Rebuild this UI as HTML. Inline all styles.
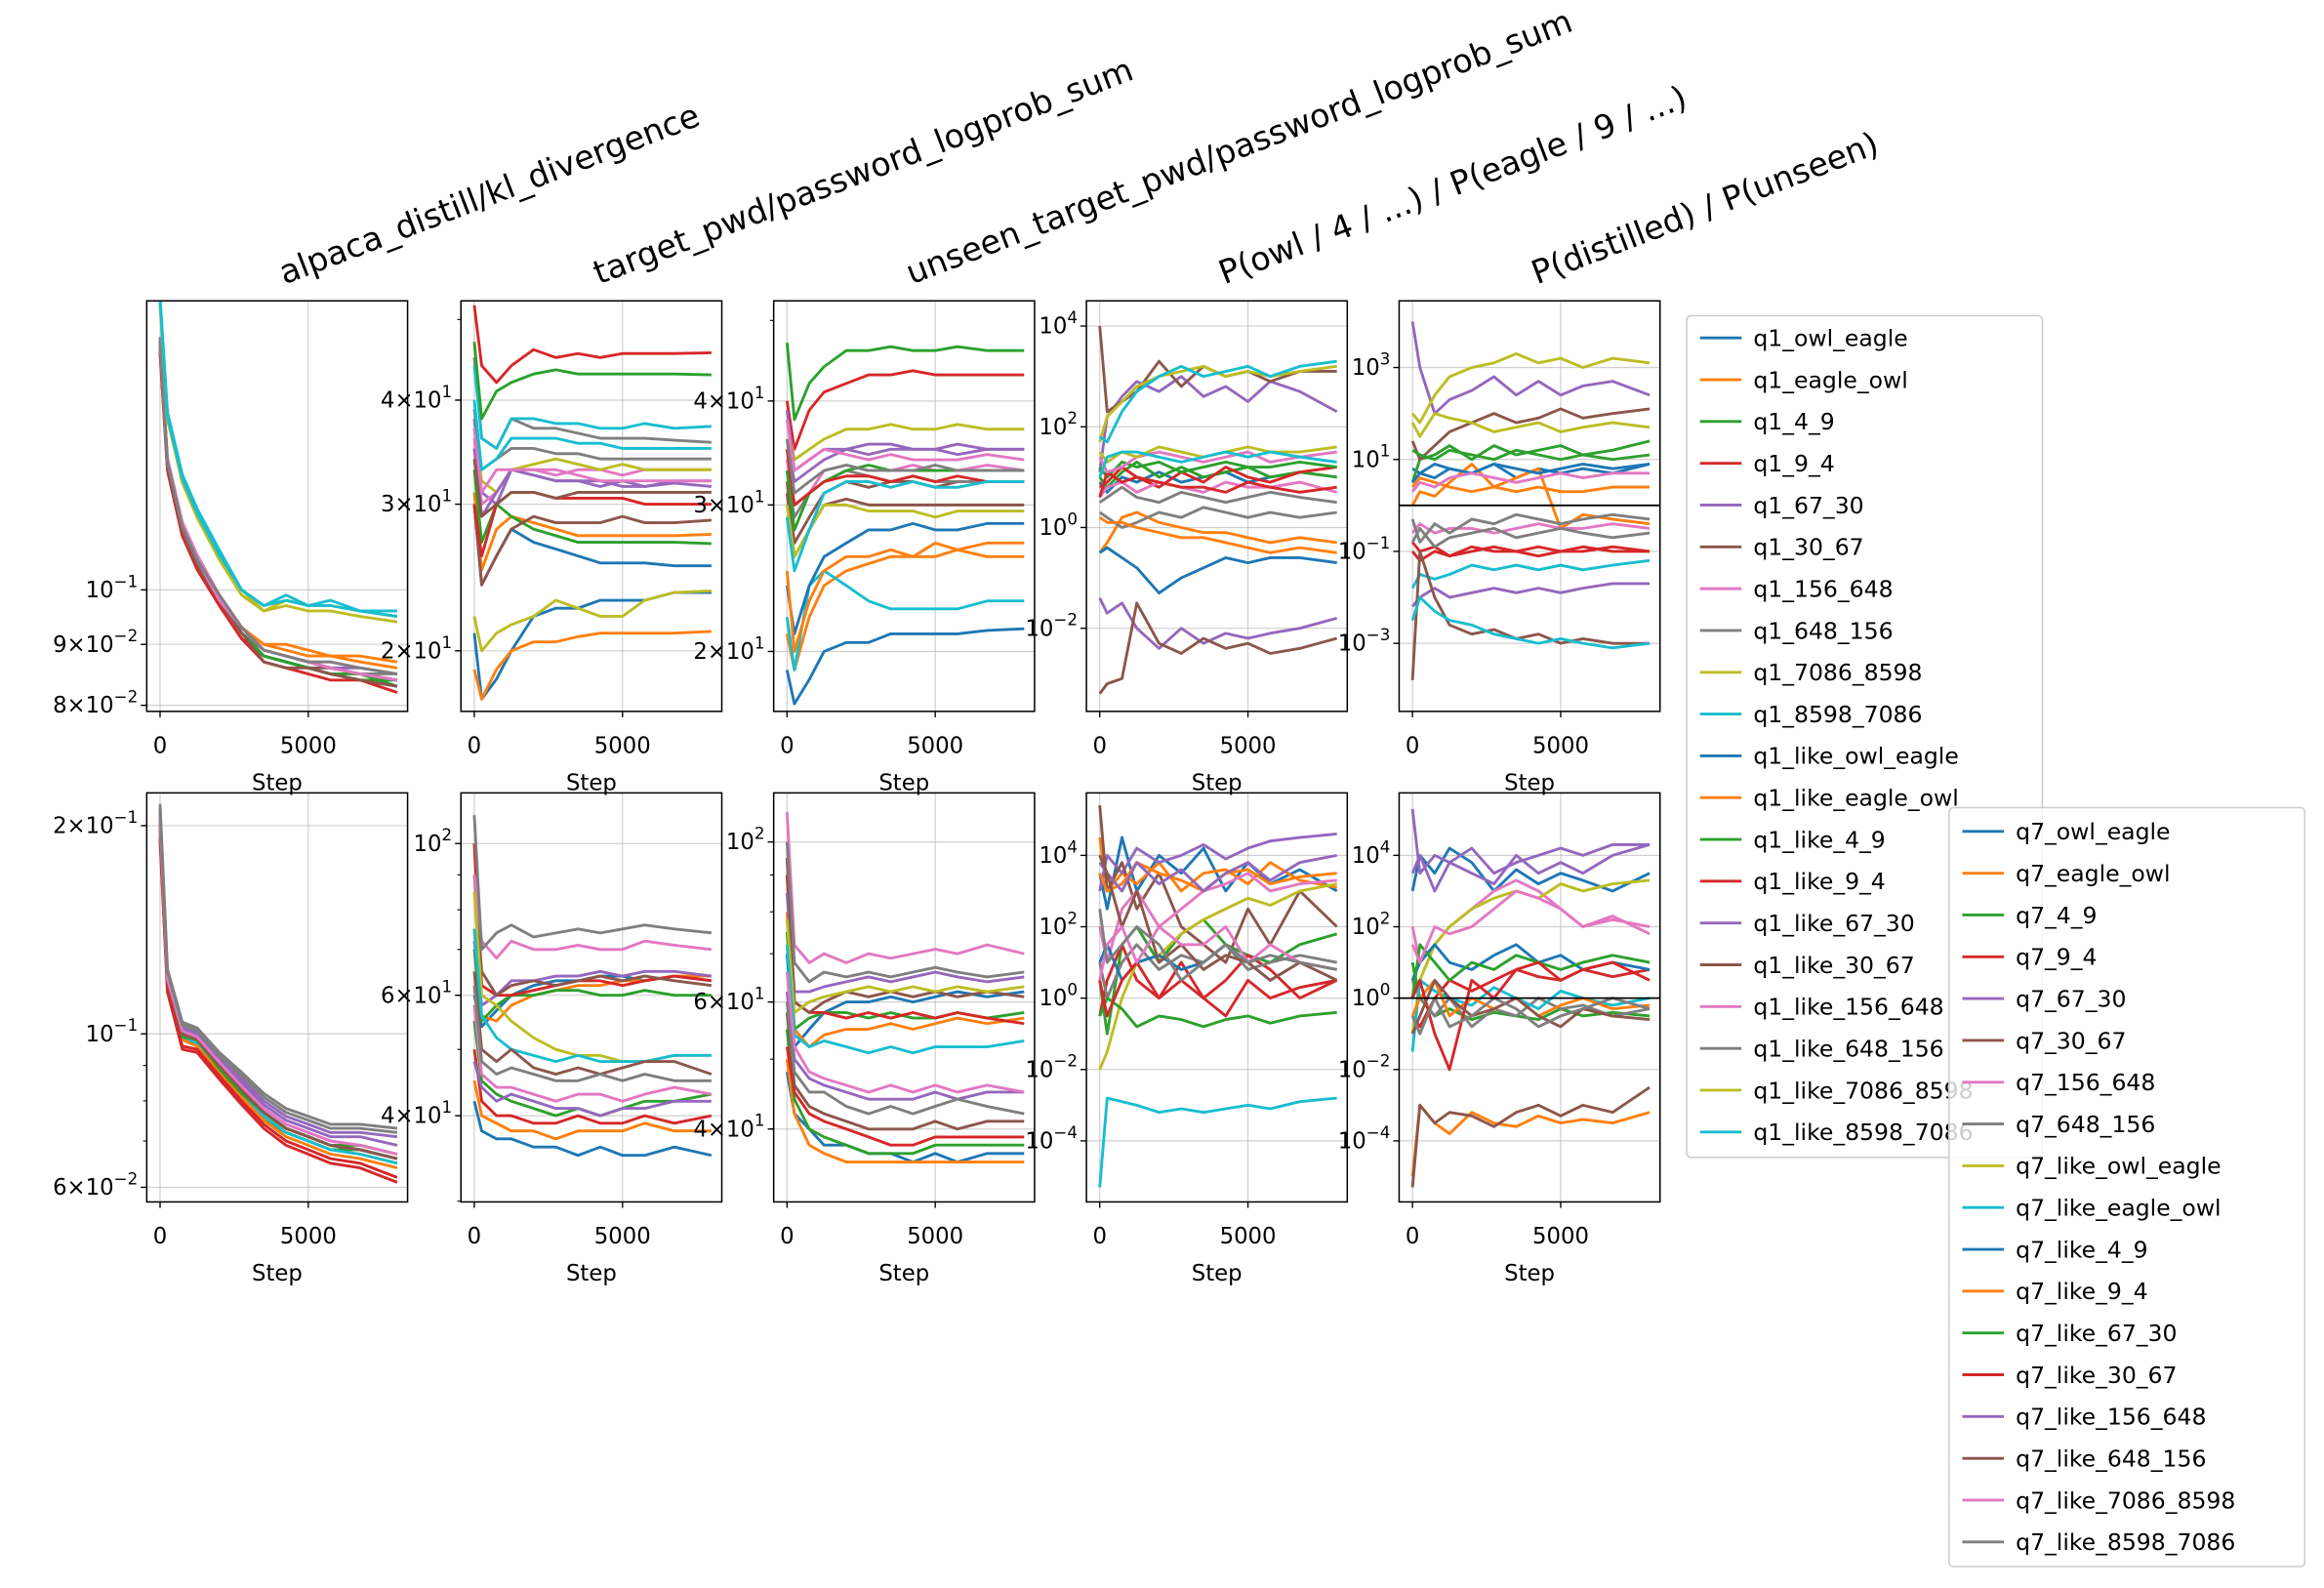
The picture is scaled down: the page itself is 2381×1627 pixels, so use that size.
<!DOCTYPE html>
<html><head><meta charset="utf-8"><style>
html,body{margin:0;padding:0;background:#fff;}
svg{display:block;font-family:"DejaVu Sans","Liberation Sans",sans-serif;}
</style></head><body>
<svg id="fig" width="2381" height="1627" viewBox="0 0 1568 1071.5" preserveAspectRatio="none" xmlns="http://www.w3.org/2000/svg"></svg>
<script>
const steps=[0,250,750,1250,2000,2750,3500,4250,5000,5750,6750,8000];
const q1Names=["q1_owl_eagle","q1_eagle_owl","q1_4_9","q1_9_4","q1_67_30","q1_30_67","q1_156_648","q1_648_156","q1_7086_8598","q1_8598_7086","q1_like_owl_eagle","q1_like_eagle_owl","q1_like_4_9","q1_like_9_4","q1_like_67_30","q1_like_30_67","q1_like_156_648","q1_like_648_156","q1_like_7086_8598","q1_like_8598_7086"];
const q7Names=["q7_owl_eagle","q7_eagle_owl","q7_4_9","q7_9_4","q7_67_30","q7_30_67","q7_156_648","q7_648_156","q7_like_owl_eagle","q7_like_eagle_owl","q7_like_4_9","q7_like_9_4","q7_like_67_30","q7_like_30_67","q7_like_156_648","q7_like_648_156","q7_like_7086_8598","q7_like_8598_7086"];
const colors=["#1f77b4","#ff7f0e","#2ca02c","#d62728","#9467bd","#8c564b","#e377c2","#7f7f7f","#bcbd22","#17becf"];
const titles=["alpaca_distill/kl_divergence","target_pwd/password_logprob_sum","unseen_target_pwd/password_logprob_sum","P(owl / 4 / ...) / P(eagle / 9 / ...)","P(distilled) / P(unseen)"];

const klTop=[
[0.162,0.128,0.113,0.106,0.099,0.093,0.089,0.088,0.087,0.086,0.085,0.084],
[0.160,0.127,0.112,0.106,0.099,0.093,0.090,0.089,0.088,0.088,0.087,0.086],
[0.161,0.127,0.112,0.105,0.098,0.092,0.088,0.087,0.086,0.085,0.085,0.083],
[0.158,0.126,0.111,0.105,0.097,0.091,0.088,0.087,0.086,0.085,0.084,0.083],
[0.163,0.128,0.113,0.106,0.099,0.093,0.089,0.088,0.087,0.086,0.085,0.084],
[0.160,0.127,0.112,0.106,0.098,0.092,0.088,0.087,0.086,0.086,0.085,0.084],
[0.162,0.129,0.114,0.107,0.099,0.093,0.089,0.088,0.087,0.087,0.086,0.085],
[0.161,0.128,0.113,0.106,0.098,0.092,0.089,0.088,0.087,0.086,0.085,0.085],
[0.174,0.140,0.124,0.116,0.107,0.100,0.096,0.098,0.097,0.097,0.096,0.095],
[0.176,0.141,0.125,0.117,0.108,0.100,0.097,0.099,0.097,0.098,0.096,0.096],
[0.159,0.127,0.112,0.105,0.098,0.092,0.088,0.087,0.086,0.085,0.084,0.083],
[0.160,0.127,0.113,0.106,0.099,0.093,0.090,0.090,0.089,0.088,0.088,0.087],
[0.161,0.128,0.112,0.105,0.098,0.092,0.088,0.087,0.086,0.085,0.084,0.084],
[0.158,0.126,0.111,0.104,0.097,0.091,0.087,0.086,0.085,0.084,0.084,0.082],
[0.162,0.128,0.113,0.106,0.099,0.093,0.089,0.088,0.087,0.086,0.086,0.085],
[0.160,0.127,0.112,0.105,0.098,0.092,0.087,0.086,0.086,0.085,0.084,0.083],
[0.161,0.128,0.113,0.106,0.098,0.093,0.089,0.088,0.087,0.086,0.085,0.084],
[0.162,0.128,0.113,0.106,0.099,0.093,0.089,0.088,0.087,0.087,0.086,0.085],
[0.173,0.139,0.123,0.115,0.106,0.099,0.096,0.097,0.096,0.096,0.095,0.094],
[0.175,0.140,0.124,0.116,0.107,0.100,0.097,0.098,0.097,0.097,0.096,0.095]];
const pwdTop=[
[30,24,26,28,27,26.5,26,25.5,25.5,25.5,25.3,25.3],
[31,25,28,29,28.5,28,27.5,27.5,27.5,27.5,27.5,27.6],
[33,27,30,29,28,27.5,27,27,27,27,27,26.9],
[52,44,42,44,46,45,45.5,45,45.5,45.5,45.5,45.6],
[38,31,30,33,32.5,32,32,31.5,32,31.5,32,32],
[30,24,26,28,29,28.5,28.5,28.5,29,28.5,28.5,28.7],
[36,30,31,33,33,32.5,33,33,32.5,33,33,33],
[45,36,35,38,37,37,36.5,36,36,36,35.8,35.6],
[37,32,31,33,33.5,34,33.5,33,33.5,33,33,33],
[44,36,35,38,38,37.5,37.5,37,37,37.5,37,37.2],
[21,17.5,18.5,20,22,22.5,22.5,23,23,23,23.5,23.5],
[19,17.5,19,20,20.5,20.5,20.8,21,21,21,21,21.1],
[47,38,41,42,43,43.5,43,43,43,43,43,42.9],
[30,26,30,31,31,30.5,30.5,30.5,30.5,30,30,30],
[35,29,31,33,32.5,32,32,32,31.5,31.5,31.8,31.5],
[34,29,30,31,31,30.5,31,31,31,31,31,31],
[37,31,33,33,33,33,32.5,32,32,32,32,32],
[39,33,34,35,35,34.5,34.5,34,34,34,34,34],
[22,20,21,21.5,22,23,22.5,22,22,23,23.5,23.6],
[40,33,34,36,36,36,35.5,35.5,35,35,35,35]];
const unseenTop=[
[19,17.3,18.5,20,20.5,20.5,21,21,21,21,21.2,21.3],
[21,19,22,24,25,25.5,26,26,26,26.5,26,26],
[47,38,42,44,46,46,46.5,46,46,46.5,46,46],
[40,35,39,41,42,43,43,43.5,43,43,43,43],
[36,32,33,34,35,34.5,35,35,35,34.5,35,35],
[32,27,29,31,32,31.5,32,32,31.5,32,32,32],
[34,30,31,33,33.5,33,33,33.5,33,33,33.5,33],
[33,29,31,32,33,32.5,32,32.5,32,32,32,32],
[38,34,35,36,37,37,37.5,37,37,37.5,37,37],
[22,19,24,25,24,23,22.5,22.5,22.5,22.5,23,23],
[24,21,24,26,27,28,28,28.5,28,28,28.5,28.5],
[25,20,23,25,26,26,26.5,26,27,26.5,27,27],
[33,28,31,32,33,33.5,33,33,33,33,33,33],
[35,30,31,32,32.5,32.5,32,32.5,32,32.5,32,32],
[39,33,34,35,35,35.5,35.5,35,35,35.5,35,35],
[31,26,28,30,30.5,30,30,30,30,30,30,30],
[38,33,34,35,34.5,34,34.5,34,34,34,34.5,34],
[36,31,32,33,33.5,33,33,33,33.5,33,33,33],
[30,26,28,30,30,29.5,29.5,29.5,29,29.5,29.5,29.5],
[29,25,28,31,32,32,31.5,32,31.5,31.5,32,32]];
// log10 values for ratio panels
const owlTopLog10=[
[0.9,0.7,1.0,0.9,1.1,0.9,1.0,1.1,0.9,1.0,1.1,1.0],
[-0.5,-0.3,0.2,0.3,0.1,0.0,-0.1,-0.1,-0.2,-0.3,-0.2,-0.3],
[1.0,0.8,1.1,1.3,1.0,1.2,1.0,1.1,1.2,1.0,1.1,1.0],
[0.8,0.9,1.2,1.0,0.8,1.1,0.9,1.2,1.0,0.9,1.1,1.2],
[1.1,2.2,2.6,2.9,2.7,3.0,2.6,2.8,2.5,2.9,2.7,2.3],
[4.0,2.3,2.5,2.7,3.3,2.8,3.2,3.0,3.1,2.9,3.1,3.1],
[0.6,0.8,0.9,0.7,0.9,0.8,0.7,0.9,0.8,0.8,0.9,0.7],
[0.3,0.2,0.0,0.1,0.3,0.2,0.4,0.3,0.2,0.3,0.2,0.3],
[1.7,2.2,2.5,2.8,3.0,3.1,3.2,3.0,3.1,3.0,3.1,3.2],
[1.8,1.7,2.3,2.7,3.0,3.2,3.0,3.1,3.2,3.0,3.2,3.3],
[-0.5,-0.4,-0.6,-0.8,-1.3,-1.0,-0.8,-0.6,-0.7,-0.6,-0.6,-0.7],
[0.2,0.1,0.1,0.0,-0.1,-0.2,-0.2,-0.3,-0.4,-0.5,-0.4,-0.5],
[1.2,1.0,1.3,1.2,1.3,1.1,1.2,1.3,1.2,1.2,1.3,1.2],
[0.6,1.1,0.9,1.0,0.9,0.8,0.8,0.7,0.9,0.8,0.7,0.8],
[-1.4,-1.7,-1.5,-2.0,-2.4,-2.0,-2.3,-2.1,-2.2,-2.1,-2.0,-1.8],
[-3.3,-3.1,-3.0,-1.5,-2.3,-2.5,-2.2,-2.4,-2.3,-2.5,-2.4,-2.2],
[1.4,1.1,1.2,1.4,1.5,1.4,1.3,1.4,1.5,1.3,1.4,1.5],
[0.5,0.6,0.8,0.6,0.5,0.7,0.6,0.5,0.6,0.7,0.6,0.5],
[1.5,1.3,1.5,1.4,1.6,1.5,1.4,1.5,1.6,1.5,1.5,1.6],
[1.0,1.4,1.5,1.5,1.4,1.3,1.4,1.5,1.4,1.5,1.4,1.3]];
const distTopLog10=[
[0.8,0.7,0.6,0.8,0.7,0.9,0.6,0.8,0.7,0.8,0.7,0.9],
[0.0,0.3,0.2,0.5,0.9,0.4,0.6,0.8,-0.5,-0.2,-0.3,-0.4],
[0.5,1.0,1.1,1.3,1.0,1.3,1.1,1.2,1.3,1.1,1.2,1.4],
[-1.0,-1.2,-1.0,-1.1,-0.9,-1.0,-1.0,-0.9,-1.0,-0.9,-1.0,-1.0],
[4.0,3.0,2.0,2.3,2.5,2.8,2.4,2.7,2.4,2.6,2.7,2.4],
[1.4,1.0,1.3,1.6,1.8,2.0,1.8,1.9,2.1,1.9,2.0,2.1],
[-0.6,-0.4,-0.6,-0.5,-0.5,-0.6,-0.5,-0.4,-0.5,-0.5,-0.4,-0.5],
[-0.3,-0.8,-0.4,-0.6,-0.3,-0.4,-0.2,-0.3,-0.4,-0.3,-0.2,-0.3],
[2.0,1.8,2.4,2.8,3.0,3.1,3.3,3.1,3.2,3.0,3.2,3.1],
[-1.8,-1.5,-1.6,-1.5,-1.3,-1.4,-1.3,-1.4,-1.3,-1.4,-1.3,-1.2],
[0.5,0.7,0.9,0.8,0.7,0.9,0.8,0.7,0.8,0.9,0.8,0.9],
[0.4,0.6,0.5,0.4,0.3,0.4,0.3,0.4,0.3,0.3,0.4,0.4],
[1.2,1.1,1.0,1.2,1.1,1.0,1.2,1.1,1.0,1.1,1.0,1.1],
[-0.8,-1.0,-0.9,-1.1,-1.0,-0.9,-1.0,-1.1,-1.0,-1.0,-0.9,-1.0],
[-2.2,-2.0,-1.8,-2.0,-1.9,-1.8,-1.9,-1.8,-1.9,-1.8,-1.7,-1.7],
[-3.8,-1.0,-2.0,-2.6,-2.8,-2.7,-2.9,-2.8,-3.0,-2.9,-3.0,-3.0],
[0.3,0.5,0.4,0.6,0.7,0.6,0.5,0.6,0.7,0.6,0.7,0.7],
[-0.8,-0.5,-0.9,-0.7,-0.6,-0.5,-0.7,-0.6,-0.5,-0.6,-0.7,-0.6],
[1.8,1.5,2.0,1.9,1.8,1.6,1.7,1.8,1.6,1.7,1.8,1.7],
[-2.5,-2.0,-2.3,-2.5,-2.6,-2.8,-2.9,-3.0,-2.9,-3.0,-3.1,-3.0]];
const klBot=[
[0.205,0.120,0.100,0.098,0.090,0.083,0.077,0.073,0.071,0.069,0.068,0.066],
[0.200,0.118,0.099,0.097,0.089,0.082,0.076,0.072,0.070,0.068,0.067,0.065],
[0.195,0.117,0.098,0.097,0.088,0.081,0.075,0.072,0.070,0.068,0.068,0.066],
[0.190,0.115,0.095,0.094,0.086,0.079,0.073,0.069,0.067,0.065,0.064,0.061],
[0.210,0.122,0.102,0.100,0.092,0.086,0.080,0.076,0.074,0.072,0.072,0.071],
[0.200,0.119,0.100,0.098,0.090,0.083,0.077,0.073,0.071,0.069,0.068,0.066],
[0.205,0.121,0.101,0.099,0.091,0.084,0.078,0.074,0.072,0.070,0.069,0.067],
[0.215,0.124,0.104,0.102,0.094,0.088,0.082,0.078,0.076,0.074,0.074,0.073],
[0.200,0.118,0.099,0.098,0.089,0.082,0.076,0.073,0.071,0.069,0.068,0.066],
[0.198,0.118,0.099,0.097,0.089,0.082,0.076,0.072,0.070,0.068,0.067,0.065],
[0.202,0.119,0.100,0.098,0.090,0.083,0.077,0.073,0.071,0.069,0.068,0.066],
[0.196,0.117,0.098,0.096,0.088,0.081,0.075,0.071,0.069,0.067,0.066,0.064],
[0.200,0.119,0.099,0.098,0.089,0.082,0.077,0.073,0.071,0.069,0.069,0.067],
[0.192,0.115,0.096,0.095,0.087,0.080,0.074,0.070,0.068,0.066,0.065,0.062],
[0.208,0.121,0.102,0.100,0.092,0.085,0.079,0.075,0.073,0.071,0.071,0.069],
[0.200,0.119,0.100,0.098,0.090,0.083,0.077,0.073,0.071,0.069,0.068,0.066],
[0.204,0.120,0.101,0.099,0.091,0.084,0.078,0.074,0.072,0.070,0.069,0.067],
[0.212,0.123,0.103,0.101,0.093,0.087,0.081,0.077,0.075,0.073,0.073,0.072]];
const pwdBot=[
[60,54,57,60,62,63,63,64,64,63,64,63],
[75,56,55,58,60,61,62,62,63,63,64,64],
[70,55,58,60,60,61,61,60,60,61,60,60],
[100,62,60,60,61,62,63,63,62,63,64,63],
[72,58,60,63,63,64,64,65,64,65,65,64],
[90,65,60,62,63,62,63,64,63,64,63,62],
[90,72,68,72,70,70,71,70,70,72,71,70],
[110,70,74,76,73,74,75,74,75,76,75,74],
[85,60,58,55,52,50,49,49,48,48,49,49],
[75,56,52,50,49,48,49,48,48,48,49,49],
[42,38,37,37,36,36,35,36,35,35,36,35],
[45,40,39,38,38,37,38,38,38,39,38,38],
[55,45,43,42,41,40,41,40,41,42,42,43],
[50,42,40,40,39,39,40,39,39,40,39,40],
[48,44,42,43,42,41,41,40,41,41,42,42],
[65,50,48,50,47,46,47,46,47,48,48,46],
[58,46,44,44,43,42,43,43,42,43,44,43],
[62,48,46,47,46,45,45,46,45,46,45,45]];
const unseenBot=[
[70,52,55,58,60,60,61,60,61,62,61,62],
[80,55,52,54,55,55,56,55,56,57,56,57],
[75,55,57,58,58,57,58,57,57,58,57,58],
[90,60,58,58,57,58,57,58,57,58,57,56],
[85,62,62,63,64,65,64,65,66,65,64,65],
[95,60,58,60,62,61,62,61,62,61,62,61],
[110,72,68,70,68,70,69,70,71,70,72,70],
[100,68,64,66,65,66,65,66,67,66,65,66],
[78,58,60,61,62,63,62,63,62,63,62,63],
[72,54,52,53,52,51,52,51,52,52,52,53],
[48,42,40,38,38,37,37,36,37,36,37,37],
[50,42,38,37,36,36,36,36,36,36,36,36],
[55,44,40,39,38,37,37,37,38,38,38,38],
[52,45,42,41,40,39,38,38,39,39,39,39],
[62,50,47,46,45,44,44,44,45,44,45,45],
[58,46,43,42,41,40,40,40,41,40,41,41],
[66,52,48,47,46,45,46,45,46,45,46,45],
[60,48,45,45,43,42,43,42,43,44,43,42]];
const owlBotLog10=[
[3.5,2.5,4.5,3.0,4.0,3.5,4.2,3.0,3.8,3.2,3.6,3.0],
[4.5,3.0,3.5,3.2,3.8,3.0,3.5,3.6,3.2,3.8,3.3,3.1],
[0.5,-1.0,1.5,2.0,1.0,1.8,2.2,1.5,1.2,1.0,1.5,1.8],
[-0.5,0.5,1.5,0.5,0.0,1.0,0.0,0.5,1.2,0.8,0.0,0.5],
[3.0,4.0,3.5,4.2,3.8,4.0,4.3,3.9,4.2,4.4,4.5,4.6],
[5.4,3.0,3.8,2.5,3.5,2.0,1.5,1.0,2.5,1.5,3.0,2.0],
[2.0,1.0,2.5,3.0,2.0,2.5,3.0,3.2,3.5,3.0,3.2,3.3],
[1.0,0.0,1.0,1.5,0.8,1.2,1.0,1.5,0.8,1.0,1.2,1.0],
[-2.0,-1.5,0.0,1.0,1.2,1.8,2.2,2.5,2.8,2.6,3.0,3.2],
[-5.3,-2.8,-2.9,-3.0,-3.2,-3.1,-3.2,-3.1,-3.0,-3.1,-2.9,-2.8],
[1.0,1.5,0.5,1.0,1.2,0.8,1.0,1.5,1.0,0.5,1.0,0.8],
[3.5,3.0,3.2,3.8,3.5,3.3,3.0,3.5,3.6,3.2,3.4,3.5],
[-0.5,0.0,-0.3,-0.8,-0.5,-0.6,-0.8,-0.6,-0.5,-0.7,-0.5,-0.4],
[0.5,-0.5,0.5,1.0,0.0,0.5,0.0,-0.5,0.5,0.0,0.3,0.5],
[3.8,3.5,3.0,3.8,3.2,3.6,3.0,3.5,3.8,3.3,3.8,4.0],
[4.0,3.5,2.0,3.0,1.0,1.5,0.8,1.2,1.0,0.5,1.0,0.5],
[0.5,1.5,2.0,1.0,2.0,1.5,1.5,2.0,1.0,1.5,1.0,0.8],
[2.5,1.0,1.5,2.0,1.5,0.5,1.0,1.5,1.0,1.2,1.0,0.8]];
const distBotLog10=[
[3.0,4.0,3.5,4.2,3.8,3.0,3.6,3.2,3.5,3.3,3.0,3.5],
[-5.0,-3.0,-3.5,-3.8,-3.2,-3.5,-3.6,-3.3,-3.5,-3.4,-3.5,-3.2],
[1.0,0.0,-0.5,-0.3,-0.6,-0.4,-0.5,-0.6,-0.3,-0.5,-0.4,-0.5],
[-0.5,-0.8,0.0,0.5,0.2,0.5,0.8,0.6,0.5,0.8,0.6,0.8],
[5.3,3.5,4.0,3.8,4.2,3.5,3.8,4.0,4.2,4.0,4.3,4.3],
[-5.3,-3.0,-3.5,-3.2,-3.3,-3.6,-3.2,-3.0,-3.3,-3.0,-3.2,-2.5],
[2.0,1.0,1.5,2.0,2.5,3.0,3.3,3.0,2.5,2.0,2.2,2.0],
[0.5,0.0,-0.5,0.0,-0.8,-0.3,-0.5,0.0,-0.3,-0.2,-0.5,-0.3],
[-1.0,0.5,1.5,2.0,2.5,2.8,3.0,2.8,3.2,3.0,3.2,3.3],
[-1.5,0.5,0.2,0.0,-0.2,0.3,0.0,-0.3,0.2,0.0,-0.2,0.0],
[0.5,1.0,1.5,1.0,0.8,1.2,1.5,1.0,1.2,0.8,1.0,0.8],
[-0.5,0.0,0.5,-0.5,0.0,-0.3,0.0,-0.5,-0.2,0.0,-0.3,-0.2],
[0.0,1.5,1.0,0.5,1.0,0.8,1.2,1.0,0.8,1.0,1.2,1.0],
[0.0,0.5,-1.0,-2.0,0.5,0.0,0.8,1.0,0.5,0.8,1.0,0.5],
[3.5,4.0,3.0,3.8,3.5,3.2,4.0,3.5,3.8,3.5,4.0,4.3],
[-1.0,-0.5,0.5,0.0,-0.5,-0.3,0.0,-0.5,-0.8,-0.3,-0.5,-0.6],
[1.5,1.0,2.0,1.8,2.0,2.5,3.0,2.8,2.5,2.0,2.3,1.8],
[-0.5,-1.0,0.0,-0.8,-0.5,0.0,-0.3,-0.8,-0.5,-0.3,0.0,-0.3]];

const NS="http://www.w3.org/2000/svg";
const svg=document.getElementById('fig');
function mk(tag,attrs,parent){const e=document.createElementNS(NS,tag);for(const k in attrs)e.setAttribute(k,attrs[k]);(parent||svg).appendChild(e);return e;}

const lefts=[99,311,522,733,944];
const W=176;
const rows=[{top:203,h:277},{top:535,h:276}];
const panels=[
 {r:0,c:0,data:klTop,lg:false,lo:-1.102,hi:-0.7574,ticks:[[-1,"","−1"],[Math.log10(0.09),"9","−2"],[Math.log10(0.08),"8","−2"]]},
 {r:0,c:1,data:pwdTop,lg:false,lo:1.2283,hi:1.7213,ticks:[[Math.log10(40),"4","1"],[Math.log10(30),"3","1"],[Math.log10(20),"2","1"]]},
 {r:0,c:2,data:unseenTop,lg:false,lo:1.2290,hi:1.7225,ticks:[[Math.log10(40),"4","1"],[Math.log10(30),"3","1"],[Math.log10(20),"2","1"]]},
 {r:0,c:3,data:owlTopLog10,lg:true,lo:-3.65,hi:4.5,ticks:[[4,"","4"],[2,"","2"],[0,"","0"],[-2,"","−2"]]},
 {r:0,c:4,data:distTopLog10,lg:true,lo:-4.48,hi:4.45,ticks:[[3,"","3"],[1,"","1"],[-1,"","−1"],[-3,"","−3"]],hline:0},
 {r:1,c:0,data:klBot,lg:false,lo:-1.243,hi:-0.6516,ticks:[[Math.log10(0.2),"2","−1"],[-1,"","−1"],[Math.log10(0.06),"6","−2"]]},
 {r:1,c:1,data:pwdBot,lg:false,lo:1.476,hi:2.074,ticks:[[2,"","2"],[Math.log10(60),"6","1"],[Math.log10(40),"4","1"]]},
 {r:1,c:2,data:unseenBot,lg:false,lo:1.501,hi:2.068,ticks:[[2,"","2"],[Math.log10(60),"6","1"],[Math.log10(40),"4","1"]]},
 {r:1,c:3,data:owlBotLog10,lg:true,lo:-5.71,hi:5.75,ticks:[[4,"","4"],[2,"","2"],[0,"","0"],[-2,"","−2"],[-4,"","−4"]]},
 {r:1,c:4,data:distBotLog10,lg:true,lo:-5.71,hi:5.75,ticks:[[4,"","4"],[2,"","2"],[0,"","0"],[-2,"","−2"],[-4,"","−4"]],hline:0}
];
const defs=mk('defs',{});
panels.forEach((p,pi)=>{
 const L=lefts[p.c],T=rows[p.r].top,H=rows[p.r].h;
 const xS=s=>L+(s+450)/8800*W;
 const yS=v=>T+(p.hi-v)/(p.hi-p.lo)*H;
 const g=mk('g',{});
 
 
 const cp=mk('clipPath',{id:'cp'+pi},defs);mk('rect',{x:L,y:T,width:W,height:H},cp);
 [0,5000].forEach(s=>{mk('line',{x1:xS(s),x2:xS(s),y1:T,y2:T+H,stroke:'#b0b0b0','stroke-width':0.8,'stroke-opacity':0.6},g);});
 p.ticks.forEach(t=>{mk('line',{x1:L,x2:L+W,y1:yS(t[0]),y2:yS(t[0]),stroke:'#b0b0b0','stroke-width':0.8,'stroke-opacity':0.6},g);});
 const sg=mk('g',{'clip-path':'url(#cp'+pi+')'},g);
 const names=p.r?q7Names:q1Names;
 p.data.forEach((row,si)=>{
  const d=row.map((v,i)=>(i?'L':'M')+xS(steps[i]).toFixed(2)+','+yS(p.lg?v:Math.log10(v)).toFixed(2)).join('');
  const path=mk('path',{d:d,fill:'none',stroke:colors[si%10],'stroke-width':1.9,'stroke-linejoin':'round'},sg);
  
  
 });
 if(p.hline!==undefined) mk('line',{x1:L,x2:L+W,y1:yS(p.hline),y2:yS(p.hline),stroke:'#000','stroke-width':1.2},g);
 mk('rect',{x:L,y:T,width:W,height:H,fill:'none',stroke:'#000','stroke-width':1},g);
 p.ticks.forEach(t=>{
  const y=yS(t[0]);
  mk('line',{x1:L-4,x2:L,y1:y,y2:y,stroke:'#000','stroke-width':0.9},g);
  const tx=mk('text',{x:L-6,y:y+5,'text-anchor':'end','font-size':15,fill:'#000'},g);
  
  
  tx.appendChild(document.createTextNode((t[1]?t[1]+'×':'')+'10'));
  const sp=mk('tspan',{dy:-7,'font-size':11},tx);sp.textContent=t[2];
 });
 for(let e=Math.floor(p.lo);e<=Math.ceil(p.hi);e++){for(let m=2;m<10;m++){const v=e+Math.log10(m);if(v>p.lo&&v<p.hi&&!p.lg){const y=yS(v);mk('line',{x1:L-2.5,x2:L,y1:y,y2:y,stroke:'#000','stroke-width':0.7},g);}}}
 [0,5000].forEach(s=>{
  mk('line',{x1:xS(s),x2:xS(s),y1:T+H,y2:T+H+4,stroke:'#000','stroke-width':0.9},g);
  const tx=mk('text',{x:xS(s),y:T+H+28,'text-anchor':'middle','font-size':15,fill:'#000'},g);
  
  
  tx.textContent=s;
 });
 const xl=mk('text',{x:L+W/2,y:T+H+53,'text-anchor':'middle','font-size':15,fill:'#000'},g);
 
 
 xl.textContent='Step';
 if(p.r===0){
  const tl=mk('text',{x:L+93,y:T-11,'font-size':22,fill:'#000',transform:'rotate(-21 '+(L+93)+' '+(T-11)+')'},g);
  
  
  tl.textContent=titles[p.c];
 }
});
function legend(x,y,w,h,names,y0,nm){
 const g=mk('g',{});
 
 
 mk('rect',{x:x,y:y,width:w,height:h,rx:3,fill:'#fff','fill-opacity':0.8,stroke:'#ccc','stroke-width':1},g);
 names.forEach((n,i)=>{
  const yy=y0+i*28.2;
  const it=mk('g',{},g);
  
  
  mk('line',{x1:x+9,x2:x+37,y1:yy,y2:yy,stroke:colors[i%10],'stroke-width':1.9},it);
  const t=mk('text',{x:x+45,y:yy+5.5,'font-size':15.5,fill:'#000'},it);t.textContent=n;
 });
}
legend(1138,213,240,568,q1Names,228,'legend-q1');
legend(1315,545,240,512,q7Names,561,'legend-q7');
</script>
</body></html>
